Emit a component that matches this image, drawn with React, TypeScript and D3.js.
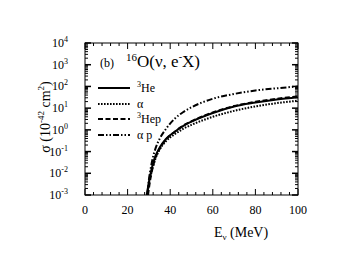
import * as d3 from "d3";

// cross sections, 10^-42 cm^2
const energyHe3 = [29, 30, 31, 32, 33, 35, 38, 42, 46, 50, 60, 70, 80, 90, 100];
const sigmaHe3 = [0.001, 0.004, 0.012, 0.03, 0.06, 0.15, 0.38, 0.8, 1.5, 2.4, 6, 12, 18, 25, 32];

const energyAlpha = [29.2, 30, 31, 32, 33, 35, 38, 42, 46, 50, 60, 70, 80, 90, 100];
const sigmaAlpha = [0.001, 0.003, 0.009, 0.022, 0.045, 0.12, 0.3, 0.62, 1.1, 1.7, 4, 7.5, 12, 17, 22];

const energyHe3p = [29.6, 30, 31, 32, 33, 35, 38, 42, 46, 50, 60, 70, 80, 90, 100];
const sigmaHe3p = [0.001, 0.002, 0.008, 0.022, 0.05, 0.13, 0.36, 0.8, 1.55, 2.5, 6.3, 12.5, 19.5, 27, 35];

const energyAlphaP = [29.3, 30, 31, 32, 33, 35, 38, 42, 46, 50, 60, 70, 80, 90, 100];
const sigmaAlphaP = [0.001, 0.005, 0.02, 0.06, 0.13, 0.38, 1.1, 3.2, 6.5, 11, 27, 45, 65, 82, 100];

const xTicks = [0, 20, 40, 60, 80, 100];
const yDecades = [-3, -2, -1, 0, 1, 2, 3, 4];

const series = [
  { sup: "3", name: "He", x: energyHe3, y: sigmaHe3, dash: "none" },
  { sup: "", name: "α", x: energyAlpha, y: sigmaAlpha, dash: "1.6,1.4" },
  { sup: "3", name: "Hep", x: energyHe3p, y: sigmaHe3p, dash: "5,2.5" },
  { sup: "", name: "α p", x: energyAlphaP, y: sigmaAlphaP, dash: "6,2,1.5,2,1.5,2" },
];

const font = "'Liberation Serif', 'Times New Roman', serif";

export default function App() {
  const left = 85, right = 298, top = 43, bottom = 195;
  const x = d3.scaleLinear().domain([0, 100]).range([left, right]);
  const y = d3.scaleLog().domain([1e-3, 1e4]).range([bottom, top]);

  const line = d3.line<[number, number]>()
    .x(d => x(d[0]))
    .y(d => y(d[1]))
    .curve(d3.curveMonotoneX);

  const minorX = d3.range(0, 101, 4).filter(v => v % 20 !== 0);
  const minorY: number[] = [];
  yDecades.slice(0, -1).forEach(e => {
    for (let k = 2; k < 10; k++) minorY.push(k * Math.pow(10, e));
  });

  const legendY = [88, 104, 119, 135];

  return (
    <svg width={348} height={272} style={{ position: "absolute", left: 0, top: 0, background: "#fff" }}
      fontFamily={font}>
      <defs>
        <clipPath id="plot">
          <rect x={left} y={top} width={right - left} height={bottom - top} />
        </clipPath>
      </defs>

      {/* curves */}
      <g clipPath="url(#plot)" fill="none" stroke="#000" strokeWidth={2}>
        {series.map((s, i) => (
          <path key={i} d={line(s.x.map((v, j) => [v, s.y[j]] as [number, number])) || ""}
            strokeDasharray={s.dash} />
        ))}
      </g>

      {/* frame + ticks */}
      <rect x={left} y={top} width={right - left} height={bottom - top} fill="none" stroke="#000" strokeWidth={1} />
      <g stroke="#000" strokeWidth={1}>
        {xTicks.map(v => (
          <g key={"xm" + v}>
            <line x1={x(v)} x2={x(v)} y1={bottom} y2={bottom - 6} />
            <line x1={x(v)} x2={x(v)} y1={top} y2={top + 6} />
          </g>
        ))}
        {minorX.map(v => (
          <g key={"xn" + v}>
            <line x1={x(v)} x2={x(v)} y1={bottom} y2={bottom - 3} />
            <line x1={x(v)} x2={x(v)} y1={top} y2={top + 3} />
          </g>
        ))}
        {yDecades.map(e => (
          <g key={"ym" + e}>
            <line x1={left} x2={left + 6} y1={y(Math.pow(10, e))} y2={y(Math.pow(10, e))} strokeWidth={1.5} />
            <line x1={right} x2={right - 6} y1={y(Math.pow(10, e))} y2={y(Math.pow(10, e))} strokeWidth={1.5} />
          </g>
        ))}
        {minorY.map((v, i) => (
          <g key={"yn" + i}>
            <line x1={left} x2={left + 3} y1={y(v)} y2={y(v)} />
            <line x1={right} x2={right - 3} y1={y(v)} y2={y(v)} />
          </g>
        ))}
      </g>

      {/* tick labels */}
      <g fontSize={12} fill="#000">
        {xTicks.map(v => (
          <text key={"xl" + v} x={x(v)} y={214} textAnchor="middle">{v}</text>
        ))}
        {yDecades.map(e => (
          <text key={"yl" + e} x={68} y={y(Math.pow(10, e)) + 4} textAnchor="end">
            10
            <tspan fontSize={8} dy={-5}>{e}</tspan>
          </text>
        ))}
      </g>

      {/* axis titles */}
      <text x={241} y={237} textAnchor="middle" fontSize={14}>
        E<tspan fontSize={9} dy={3}>ν</tspan><tspan dy={-3}> (MeV)</tspan>
      </text>
      <text transform="translate(50,117) rotate(-90)" textAnchor="middle" fontSize={14}>
        σ (10<tspan fontSize={9} dy={-6}>-42</tspan><tspan dy={6}> cm</tspan>
        <tspan fontSize={9} dy={-6}>2</tspan><tspan dy={6}>)</tspan>
      </text>

      {/* panel title */}
      <text x={100} y={67} fontSize={12}>(b)</text>
      <text x={126} y={67} fontSize={17}>
        <tspan fontSize={11} dy={-6}>16</tspan>
        <tspan dy={6}>O(ν, e</tspan>
        <tspan fontSize={10} dy={-7}>-</tspan>
        <tspan dy={7}>X)</tspan>
      </text>

      {/* legend */}
      {series.map((s, i) => (
        <g key={"lg" + i}>
          <line x1={98} x2={130} y1={legendY[i]} y2={legendY[i]} stroke="#000" strokeWidth={2}
            strokeDasharray={s.dash} />
          <text x={137} y={legendY[i] + 4} fontSize={12}>
            {s.sup ? <tspan fontSize={8} dy={-5}>{s.sup}</tspan> : null}
            <tspan dy={s.sup ? 5 : 0}>{s.name}</tspan>
          </text>
        </g>
      ))}
    </svg>
  );
}
